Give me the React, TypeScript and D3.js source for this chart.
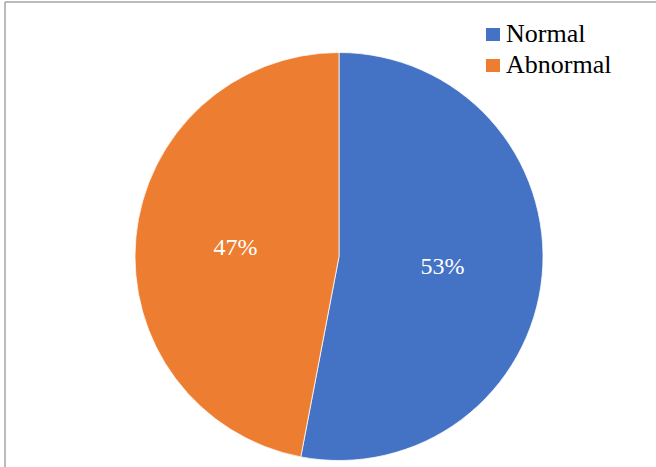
import React from "react";
import * as d3 from "d3";

const categories = ["Normal", "Abnormal"];
const values = [53, 47];
const colors = ["#4472C4", "#ED7D31"];

const W = 656;
const H = 467;
const cx = 339;
const cy = 256.5;
const R = 204;

const font = '"Liberation Serif", "Times New Roman", Times, "DejaVu Serif", serif';

export default function App() {
  const pie = d3.pie<number>().sort(null).value((d) => d)(values);
  const arc = d3.arc<d3.PieArcDatum<number>>().innerRadius(0).outerRadius(R);
  const labelArc = d3.arc<d3.PieArcDatum<number>>().innerRadius(R * 1.02).outerRadius(0);
  const total = d3.sum(values);
  return (
    <svg width={W} height={H} style={{ position: "absolute", left: 0, top: 0, background: "#fff", fontFamily: font }}>
      <rect x={0} y={0} width={W} height={H} fill="#fff" />
      <line x1={5} y1={2} x2={W} y2={2} stroke="#a6a6a6" strokeWidth={1.5} />
      <line x1={5} y1={2} x2={5} y2={H} stroke="#a6a6a6" strokeWidth={1.5} />
      <g transform={`translate(${cx},${cy})`}>
        {pie.map((p, i) => (
          <path key={i} d={arc(p) || ""} fill={colors[i]} stroke="#fff" strokeWidth={0.75} />
        ))}
        {pie.map((p, i) => {
          const [x, y] = labelArc.centroid(p);
          return (
            <text
              key={"t" + i}
              x={x}
              y={y + 8}
              textAnchor="middle"
              fill="#fff"
              style={{ fontFamily: font, fontSize: 24 }}
            >
              {Math.round((values[i] / total) * 100)}%
            </text>
          );
        })}
      </g>
      {categories.map((c, i) => (
        <g key={c} transform={`translate(486,${28 + i * 31})`}>
          <rect x={0} y={0} width={14} height={13} fill={colors[i]} />
          <text x={20} y={14} fill="#000" style={{ fontFamily: font, fontSize: 26 }}>
            {c}
          </text>
        </g>
      ))}
    </svg>
  );
}
